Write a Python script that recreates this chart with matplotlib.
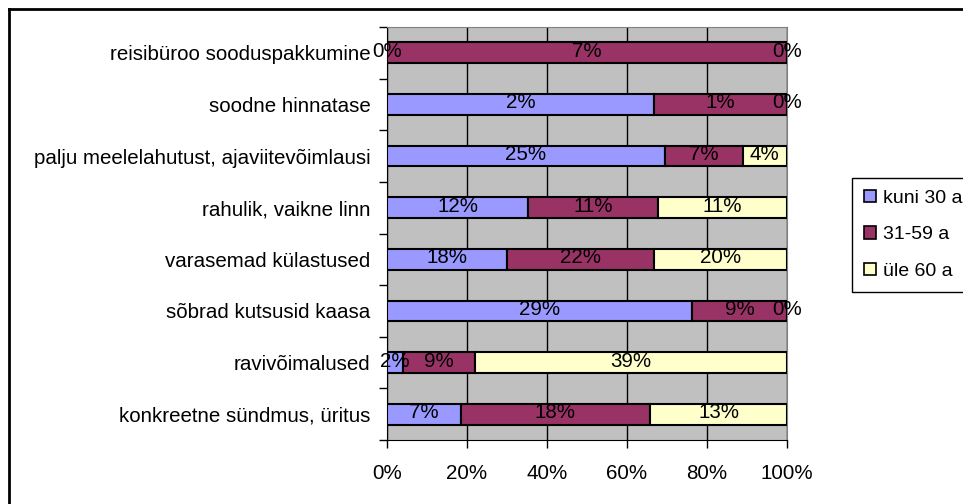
import matplotlib
matplotlib.use("Agg")
import matplotlib.pyplot as plt
from matplotlib.patches import Patch
from matplotlib.lines import Line2D
import numpy as np

plt.rcParams['font.family'] = ['Liberation Sans', 'DejaVu Sans']

# categories bottom -> top
categories = ['konkreetne sündmus, üritus', 'ravivõimalused', 'sõbrad kutsusid kaasa',
              'varasemad külastused', 'rahulik, vaikne linn',
              'palju meelelahutust, ajaviitevõimlausi', 'soodne hinnatase',
              'reisibüroo sooduspakkumine']
series_names = ['kuni 30 a', '31-59 a', 'üle 60 a']
kuni30 = [7, 2, 29, 18, 12, 25, 2, 0]
a31_59 = [18, 9, 9, 22, 11, 7, 1, 7]
yle60 = [13, 39, 0, 20, 11, 4, 0, 0]
colors = ['#9999FF', '#993366', '#FFFFCC']

FS = 14.8
W, H = 963, 504
fig = plt.figure(figsize=(W / 100, H / 100), dpi=100)
ax = fig.add_axes([387 / W, 1 - 440 / H, 400 / W, 413 / H])
ax.set_facecolor('#C0C0C0')

data = np.array([kuni30, a31_59, yle60], dtype=float)
totals = data.sum(axis=0)
shares = data / totals * 100
y = np.arange(len(categories))
left = np.zeros(len(categories))
for i, name in enumerate(series_names):
    ax.barh(y, shares[i], left=left, height=0.4, color=colors[i],
            edgecolor='black', linewidth=1.5, label=name, zorder=3)
    for yy, l, w, v in zip(y, left, shares[i], data[i]):
        ax.text(l + w / 2, yy + 0.03, f'{int(v)}%', ha='center', va='center',
                fontsize=FS, color='black', zorder=4, clip_on=False)
    left += shares[i]

ax.set_xlim(0, 100)
ax.set_ylim(-0.5, len(categories) - 0.5)
ax.set_xticks(np.arange(0, 101, 20))
ax.set_xticklabels([f'{t}%' for t in range(0, 101, 20)], fontsize=FS)
ax.xaxis.grid(True, color='black', linewidth=1, zorder=1)
ax.set_axisbelow(True)

ax.set_yticks(np.arange(-0.5, len(categories), 1))
ax.set_yticklabels([])
ax.set_yticks(y, minor=True)
ax.set_yticklabels(categories, minor=True, fontsize=FS)
ax.tick_params(axis='y', which='minor', length=0, pad=12)
ax.tick_params(axis='y', which='major', length=6, direction='out', width=1)
ax.tick_params(axis='x', length=6, direction='out', width=1, pad=11)

for s in ['top', 'right']:
    ax.spines[s].set_color('#808080')
for s in ['left', 'bottom']:
    ax.spines[s].set_color('black')

handles = [Patch(facecolor=c, edgecolor='black', linewidth=1.2) for c in colors]
fig.legend(handles, series_names, loc='upper left', bbox_to_anchor=(852 / W, 1 - 178 / H),
           borderaxespad=0, frameon=True, fancybox=False, edgecolor='black',
           fontsize=14, handlelength=0.62, handleheight=0.62, handletextpad=0.36,
           labelspacing=1.0, borderpad=0.6, framealpha=1)

# chart area border (only left and top visible)
fig.add_artist(Line2D([8.5 / W, 8.5 / W], [0, 1 - 9 / H], transform=fig.transFigure,
                      color='black', linewidth=2))
fig.add_artist(Line2D([8.5 / W, 1], [1 - 9 / H, 1 - 9 / H], transform=fig.transFigure,
                      color='black', linewidth=2))

fig.savefig('out.png', dpi=100)
